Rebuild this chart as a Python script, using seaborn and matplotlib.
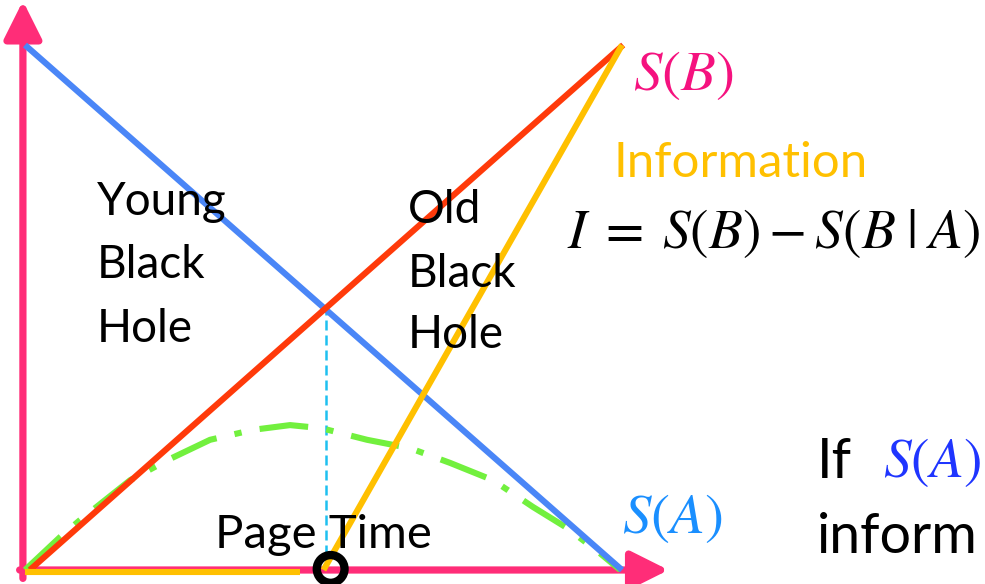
import numpy as np
import pandas as pd
import matplotlib
matplotlib.use("Agg")
import matplotlib.pyplot as plt
import seaborn as sns

# time runs 0 -> 100 (full evaporation), entropy 0 -> 100
t_line = [0, 100]
s_a = [100, 0]          # entropy of the black hole, S(A)
s_b = [0, 100]          # entropy of the radiation, S(B)
page_time = 50
info_flat_t = [0, 46]
info_flat = [0, 0]
info_rise_t = [50, 100]
info_rise = [0, 100]
page_curve_t = [0, 5.9, 9.2, 17.6, 24.0, 31.0, 38.2, 44.4, 49.7, 57.3,
                64.5, 71.2, 78.4, 85.1, 90.8, 96.3, 99.7]
page_curve = [0, 6.3, 9.5, 17.1, 21.0, 24.8, 26.7, 27.6, 27.0, 24.8,
              23.2, 20.4, 17.1, 12.0, 8.0, 3.2, 0]
circle_t = [51.2]
circle_s = [0.2]

young_lines = ["Young", "Black", "Hole"]
old_lines = ["Old", "Black", "Hole"]

W, H = 985, 584
sns.set_theme(style="white")
plt.rcParams['font.family'] = ['Lato', 'DejaVu Sans']
plt.rcParams['mathtext.fontset'] = 'stix'
plt.rcParams['text.color'] = 'black'

fig = plt.figure(figsize=(W / 100, H / 100), dpi=100)
ax = fig.add_axes([0, 0, 1, 1])
# pixel mapping: t=0 at x=25px, 5.97 px per unit; s=0 at y=570px, 5.25 px per unit
ax.set_xlim(-25 / 5.97, (W - 25) / 5.97)
ax.set_ylim(-(H - 570) / 5.25, 570 / 5.25)
ax.axis("off")

pink = "#ff2d78"
# axes arrows
arrow = dict(arrowstyle="-|>,head_length=1.0,head_width=0.5",
             color=pink, linewidth=5.2, mutation_scale=23, shrinkA=0, shrinkB=0)
ax.annotate("", xy=(-0.35, 108.4), xytext=(-0.35, -1.6), arrowprops=arrow)
ax.annotate("", xy=(107.8, 0), xytext=(-0.9, 0), arrowprops=arrow)

# page time marker
ax.plot([page_time + 0.4, page_time + 0.4], [0, 50], color="#1ec0f0", linewidth=1.8,
        linestyle=(0, (4, 2)), zorder=2)

line_w = 4.4


def draw(x, y, color, z, style="-"):
    sns.lineplot(x=x, y=y, ax=ax, color=color, estimator=None, sort=False, zorder=z)
    ln = ax.lines[-1]
    ln.set_linewidth(line_w)
    ln.set_linestyle(style)
    ln.set_solid_capstyle("butt")


draw(page_curve_t, page_curve, "#72f03e", 3, (0, (8, 3, 1.2, 3)))
draw(t_line, s_a, "#4a86f7", 4)
draw([0.8, 100.2], s_b, "#ff3a0a", 5)
draw(info_flat_t, [v - 0.35 for v in info_flat], "#ffc000", 6)
draw(info_rise_t, info_rise, "#ffc000", 6)
ax.scatter(circle_t, circle_s, s=400, facecolors="none", edgecolors="black",
           linewidths=6, zorder=7, clip_on=False)


def px(x, y):
    return x / W, 1 - y / H


for label, yb in zip(young_lines, [215, 278, 342]):
    fig.text(*px(97, yb), label, fontsize=33, va="baseline", ha="left")
for label, yb in zip(old_lines, [223, 287, 348]):
    fig.text(*px(408, yb), label, fontsize=33, va="baseline", ha="left")
fig.text(*px(215, 548), "Page Time", fontsize=34, va="baseline", ha="left")

fig.text(*px(633, 90), r"$S(B)$", fontsize=41, color="#f5127f", va="baseline")
fig.text(*px(613, 177), "Information", fontsize=35.5, color="#ffc000", va="baseline")
fig.text(*px(567, 248), r"$I\;=\;S(B) - S(B\;|\;A)$", fontsize=40, color="black",
         va="baseline")
fig.text(*px(622, 533), r"$S(A)$", fontsize=41, color="#1a8fff", va="baseline")

fig.text(*px(817, 478), "If", fontsize=40, va="baseline")
fig.text(*px(883, 477), r"$S(A)$", fontsize=40, color="#1f35ff", va="baseline")
fig.text(*px(817, 553), "inform", fontsize=40, va="baseline")

fig.savefig("out.png", dpi=100)
